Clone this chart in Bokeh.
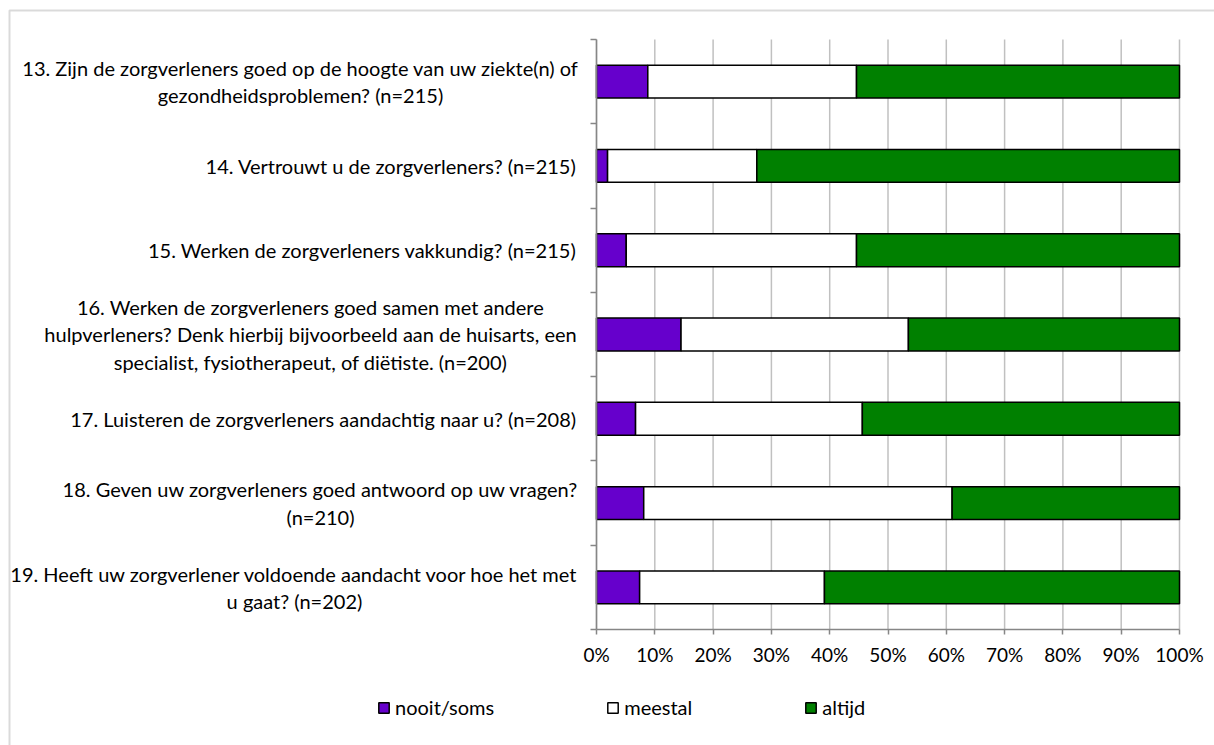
from bokeh.plotting import figure
from bokeh.models import (ColumnDataSource, FixedTicker, Legend, LegendItem,
                          BoxAnnotation, Range1d)
from bokeh.core.properties import value
from bokeh.embed import file_html
from bokeh.resources import INLINE

# ---------------- data ----------------
questions = [
    "13. Zijn de zorgverleners goed op de hoogte van uw ziekte(n) of\ngezondheidsproblemen? (n=215)",
    "14. Vertrouwt u de zorgverleners? (n=215)",
    "15. Werken de zorgverleners vakkundig? (n=215)",
    "16. Werken de zorgverleners goed samen met andere\nhulpverleners? Denk hierbij bijvoorbeeld aan de huisarts, een\nspecialist, fysiotherapeut, of diëtiste. (n=200)",
    "17. Luisteren de zorgverleners aandachtig naar u? (n=208)",
    "18. Geven uw zorgverleners goed antwoord op uw vragen?\n(n=210)",
    "19. Heeft uw zorgverlener voldoende aandacht voor hoe het met\nu gaat? (n=202)",
]
nooit_soms = [8.8, 1.9, 5.1, 14.5, 6.7, 8.1, 7.4]
meestal = [35.8, 25.6, 39.5, 39.0, 38.9, 52.9, 31.7]
altijd = [55.4, 72.5, 55.4, 46.5, 54.4, 39.0, 60.9]
series_names = ["nooit/soms", "meestal", "altijd"]
x_tick_values = [0, 10, 20, 30, 40, 50, 60, 70, 80, 90, 100]
x_tick_labels = ["0%", "10%", "20%", "30%", "40%", "50%", "60%", "70%", "80%", "90%", "100%"]

# ---------------- layout (pixels in the 1214x745 canvas) ----------------
W, H = 1214, 745
PLOT_L, PLOT_R, PLOT_T, PLOT_B = 596, 1179, 39, 629
LABEL_RIGHT_PX = 576
label_centre_px = [300, None, None, 310, None, 320, 294]   # centre of wrapped blocks

FONT = "Lato"
FS = "20px"
TICK_FS = "19px"
colors = ["#6600CC", "#FFFFFF", "#008000"]
axis_gray = "#868686"
grid_gray = "#C0C0C0"

n = len(questions)
x_max = 100.0
sx = (PLOT_R - PLOT_L) / x_max
sy = (PLOT_B - PLOT_T) / n
x_start = -PLOT_L / sx
x_end = x_start + W / sx
y_start = -(H - PLOT_B) / sy
y_end = n + PLOT_T / sy


def px_to_x(px):
    return x_start + px / sx


ypos = [n - 0.5 - i for i in range(n)]

src = ColumnDataSource(dict(y=ypos, q=questions, nooit=nooit_soms,
                            meestal=meestal, altijd=altijd))

p = figure(width=W, height=H, x_range=Range1d(x_start, x_end), y_range=Range1d(y_start, y_end),
           output_backend="svg", toolbar_location=None,
           min_border=0, min_border_left=0, min_border_right=0,
           min_border_top=0, min_border_bottom=0)
p.outline_line_color = None
p.background_fill_color = "white"
p.border_fill_color = "white"
p.xgrid.visible = False
p.ygrid.visible = False

# vertical gridlines at the tick values
p.segment(x0=x_tick_values, y0=[0] * len(x_tick_values), x1=x_tick_values,
          y1=[n] * len(x_tick_values), line_color=grid_gray, line_width=1.5)

renderers = p.hbar_stack(["nooit", "meestal", "altijd"], y="y", height=0.39,
                         color=colors, line_color="black", line_width=1.5, source=src)

# x axis
xa = p.xaxis[0]
xa.fixed_location = 0
xa.bounds = (0, x_max)
xa.ticker = FixedTicker(ticks=x_tick_values)
xa.major_label_overrides = {v: l for v, l in zip(x_tick_values, x_tick_labels)}
xa.axis_line_color = axis_gray
xa.axis_line_width = 1.5
xa.major_tick_line_color = axis_gray
xa.major_tick_line_width = 1.5
xa.major_tick_in = 0
xa.major_tick_out = 5
xa.minor_tick_line_color = None
xa.major_label_text_font = FONT
xa.major_label_text_font_size = TICK_FS
xa.major_label_text_color = "black"
xa.major_label_standoff = 8

# y axis: ticks at category boundaries (labels drawn as text glyphs)
ya = p.yaxis[0]
ya.fixed_location = 0
ya.bounds = (0, n)
ya.ticker = FixedTicker(ticks=list(range(n + 1)))
ya.axis_line_color = axis_gray
ya.axis_line_width = 1.5
ya.major_tick_line_color = axis_gray
ya.major_tick_line_width = 1.5
ya.major_tick_in = 0
ya.major_tick_out = 6
ya.minor_tick_line_color = None
ya.major_label_overrides = {i: "" for i in range(n + 1)}
ya.major_label_text_color = None

# category labels
single = dict(x=[], y=[], t=[])
multi = dict(x=[], y=[], t=[])
for q, yv, c in zip(questions, ypos, label_centre_px):
    if c is None:
        single["x"].append(px_to_x(LABEL_RIGHT_PX)); single["y"].append(yv); single["t"].append(q)
    else:
        multi["x"].append(px_to_x(c)); multi["y"].append(yv); multi["t"].append(q)

p.text(x="x", y="y", text="t", source=ColumnDataSource(single), text_align="right",
       text_baseline="middle", text_font=value(FONT), text_font_size=value(FS),
       text_color="black")
p.text(x="x", y="y", text="t", source=ColumnDataSource(multi), text_align="center",
       text_baseline="middle", text_font=value(FONT), text_font_size=value(FS),
       text_color="black", text_line_height=1.15)

# legend
items = [LegendItem(label=nm, renderers=[r]) for nm, r in zip(series_names, renderers)]
legend = Legend(items=items, orientation="horizontal", location=(377, H - 719),
                glyph_width=13, glyph_height=13, label_standoff=5, spacing=112,
                padding=0, margin=0, border_line_color=None, background_fill_alpha=0,
                label_text_font=FONT, label_text_font_size=FS, label_text_color="black")
p.add_layout(legend)

# chart border (left and top edges visible in the reference)
p.add_layout(BoxAnnotation(left=9, right=W + 50, top=H - 10, bottom=-50,
                           left_units="screen", right_units="screen",
                           top_units="screen", bottom_units="screen",
                           fill_alpha=0, line_color=axis_gray, line_width=2))

open("out.html", "w").write(file_html(p, INLINE))
